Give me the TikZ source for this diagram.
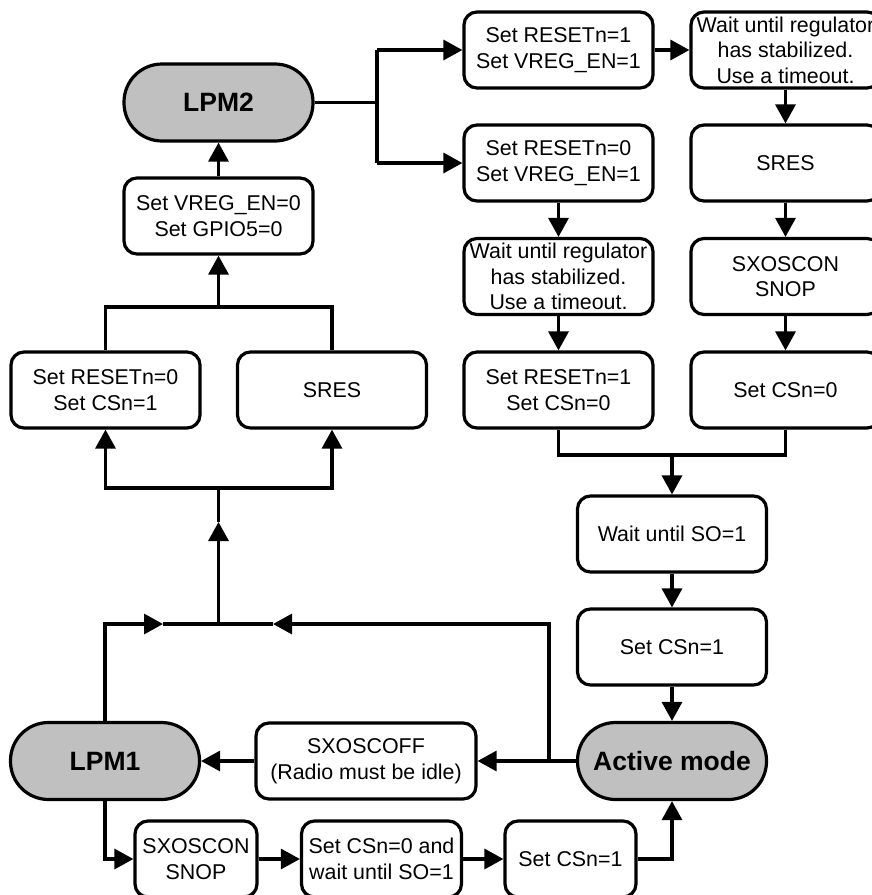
\documentclass[tikz,border=0pt]{standalone}
\usepackage{fontspec}
\setmainfont{Liberation Sans}
\usetikzlibrary{arrows.meta}
\definecolor{termgray}{RGB}{192,192,192}
\begin{document}
\begin{tikzpicture}[x=1pt,y=-1pt,
  lw/.style={line width=3.2pt},
  box/.style={draw,lw,rounded corners=13pt,minimum width=189pt,minimum height=76pt,inner sep=0pt,align=center,fill=white,font=\fontsize{21.4}{25.5}\selectfont},
  term/.style={draw,lw,rounded corners=38pt,fill=termgray,minimum width=189pt,minimum height=77pt,inner sep=0pt,font=\fontsize{26.5}{30}\selectfont\bfseries},
  conn/.style={lw},
  arr/.style={lw,-{Triangle[length=19pt,width=20pt]}},
]
\useasboundingbox (0,0) rectangle (872,895);

% nodes
\node[term] (lpm2) at (218.5,102.5) {LPM2};
\node[box] (vreg0) at (218.5,216) {Set VREG\_EN=0\\Set GPIO5=0};
\node[box] (rst0cs1) at (105.5,390) {Set RESETn=0\\Set CSn=1};
\node[box] (sresL) at (332,390) {SRES};
\node[box] (rst1v) at (558.5,50) {Set RESETn=1\\Set VREG\_EN=1};
\node[box] (waitA) at (785.5,50) {Wait until regulator\\has stabilized.\\Use a timeout.};
\node[box] (rst0v) at (558.5,163) {Set RESETn=0\\Set VREG\_EN=1};
\node[box] (sresR) at (785.5,163) {SRES};
\node[box] (waitB) at (558.5,276.5) {Wait until regulator\\has stabilized.\\Use a timeout.};
\node[box] (sxon) at (785.5,276.5) {SXOSCON\\SNOP};
\node[box] (rst1cs0) at (558.5,390) {Set RESETn=1\\Set CSn=0};
\node[box] (cs0) at (785.5,390) {Set CSn=0};
\node[box] (waitso) at (672,534) {Wait until SO=1};
\node[box] (cs1) at (672,647) {Set CSn=1};
\node[term] (active) at (672,761) {Active mode};
\node[term] (lpm1) at (105,761) {LPM1};
\node[box,minimum width=220pt] (sxoff) at (366,761) {SXOSCOFF\\(Radio must be idle)};
\node[box,minimum width=122pt] (sxon2) at (196,859) {SXOSCON\\SNOP};
\node[box,minimum width=160pt] (cs0wait) at (381.5,859) {Set CSn=0 and\\wait until SO=1};
\node[box,minimum width=131pt] (cs1b) at (570.5,859) {Set CSn=1};

% coordinates
\coordinate (br) at (377,102.5);
\coordinate (brT) at (377,50);
\coordinate (brB) at (377,163);
\coordinate (jt) at (218.5,307);
\coordinate (jb) at (218.5,488);
\coordinate (mid1) at (218.5,522);
\coordinate (jm) at (218.5,624);
\coordinate (ma) at (163,624);
\coordinate (mb) at (273,624);
\coordinate (act) at (549,761);
\coordinate (jr) at (672,455);

% LPM2 branches
\draw[conn] (lpm2.east) -- (br);
\draw[conn] (brT) -- (brB);
\draw[arr] (brT) -- (rst1v.west);
\draw[arr] (brB) -- (rst0v.west);
\draw[arr] (rst1v) -- (waitA);
\draw[arr] (waitA) -- (sresR);
\draw[arr] (sresR) -- (sxon);
\draw[arr] (sxon) -- (cs0);
\draw[arr] (rst0v) -- (waitB);
\draw[arr] (waitB) -- (rst1cs0);
\draw[conn] (rst1cs0.south) |- (jr) -| (cs0.south);
\draw[arr] (jr) -- (waitso);
\draw[arr] (waitso) -- (cs1);
\draw[arr] (cs1) -- (active);

% left column
\draw[conn] (rst0cs1.north) |- (jt) -| (sresL.north);
\draw[arr] (jt) -- (vreg0.south);
\draw[arr] (vreg0) -- (lpm2);
\draw[arr] (jb) -| (rst0cs1.south);
\draw[arr] (jb) -| (sresL.south);
\draw[arr] (jm) -- (mid1);
\draw[conn] (mid1) -- (jb);
\draw[arr] (lpm1.north) |- (ma);
\draw[conn] (ma) -- (jm);
\draw[arr] (act) |- (mb);
\draw[conn] (mb) -- (jm);

% bottom
\draw[arr] (active.west) -- (sxoff.east);
\draw[arr] (sxoff) -- (lpm1);
\draw[arr] (lpm1.south) |- (sxon2.west);
\draw[arr] (sxon2) -- (cs0wait);
\draw[arr] (cs0wait) -- (cs1b);
\draw[arr] (cs1b.east) -| (active.south);
\end{tikzpicture}
\end{document}
